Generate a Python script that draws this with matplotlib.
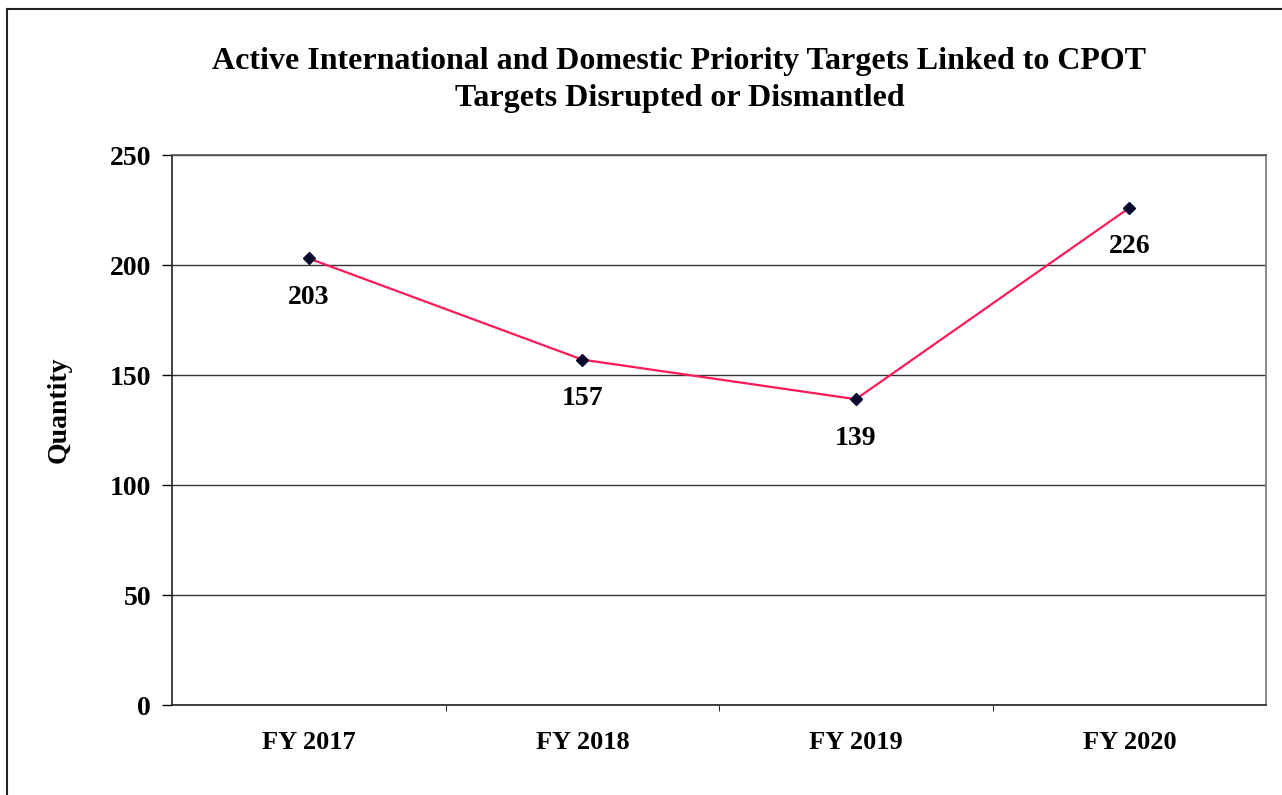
import matplotlib.pyplot as plt
from matplotlib.lines import Line2D

years = ['FY 2017', 'FY 2018', 'FY 2019', 'FY 2020']
quantity = [203, 157, 139, 226]
y_ticks = [0, 50, 100, 150, 200, 250]

plt.rcParams['font.family'] = ['Liberation Serif', 'DejaVu Serif']
plt.rcParams['font.weight'] = 'bold'

fig = plt.figure(figsize=(12.82, 7.95), dpi=100)
ax = fig.add_axes([0.1342, 0.1132, 0.8534, 0.6918])

x = list(range(len(years)))
ax.plot(x, quantity, color='#ff1a5a', lw=1.6, zorder=3)
ax.plot(x, quantity, ls='none', marker='D', ms=6, color='#0a0a30', zorder=4)

for xi, v in zip(x, quantity):
    ax.annotate(str(v), (xi, v), xytext=(0, -28), textcoords='offset points',
                ha='center', va='center', fontsize=20, fontweight='bold')

ax.set_xlim(-0.5, len(years) - 0.5)
ax.set_ylim(0, 250)
ax.set_yticks(y_ticks)
ax.set_yticklabels([str(t) for t in y_ticks], fontsize=20, fontweight='bold')
ax.set_xticks(x)
ax.set_xticklabels(years, fontsize=19, fontweight='bold')
ax.tick_params(axis='x', length=0, pad=19)
ax.set_xticks([i + 0.5 for i in x[:-1]], minor=True)
ax.tick_params(axis='x', which='minor', length=4, direction='out')
ax.tick_params(axis='y', length=7, width=1, pad=8)

ax.yaxis.grid(True, color='#333333', lw=1)
ax.set_axisbelow(True)
ax.spines['top'].set_color('#555555')
ax.spines['right'].set_color('#777777')
ax.spines['left'].set_color('#222222')
ax.spines['bottom'].set_color('#222222')
for s in ax.spines.values():
    s.set_linewidth(1.2)

ax.set_ylabel('Quantity', fontsize=20, fontweight='bold')
ax.yaxis.set_label_coords(-0.092, 0.536)

fig.text(0.530, 0.899, 'Active International and Domestic Priority Targets Linked to CPOT\n'
         'Targets Disrupted or Dismantled', ha='center', va='center',
         fontsize=23, fontweight='bold', linespacing=1.35)

# outer frame
fig.add_artist(Line2D([0.0055, 0.0055], [0.0, 0.989], transform=fig.transFigure, color='#222222', lw=1.5))
fig.add_artist(Line2D([0.0055, 1.0], [0.989, 0.989], transform=fig.transFigure, color='#222222', lw=1.5))

fig.savefig('out.png', dpi=100)
